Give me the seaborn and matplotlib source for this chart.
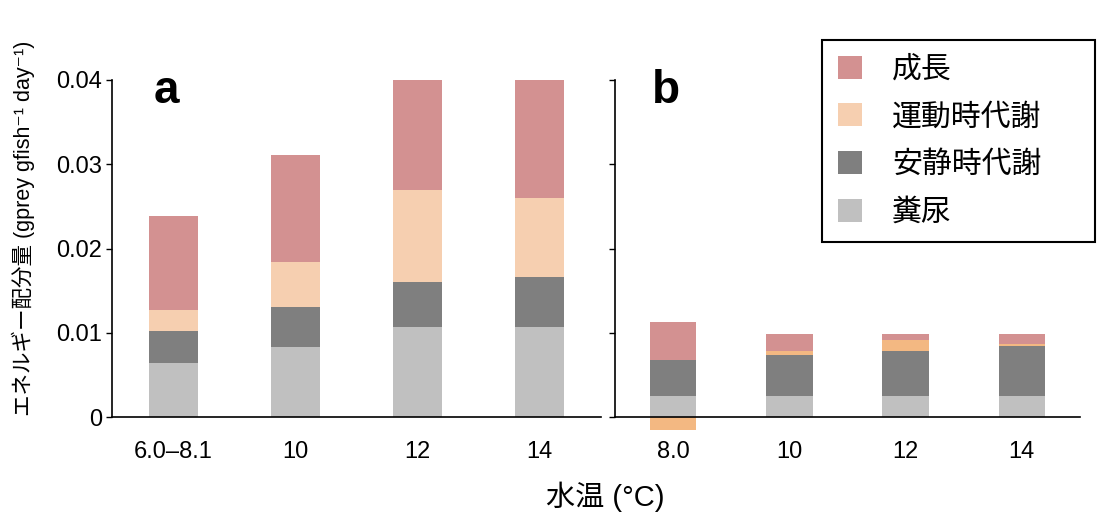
import numpy as np
import pandas as pd
import matplotlib
matplotlib.use('Agg')
import matplotlib.pyplot as plt
import seaborn as sns
from matplotlib.patches import Patch

# panel a (field estimates)
temps_a = ['6.0–8.1', '10', '12', '14']
feces_a = [0.0064, 0.0083, 0.0107, 0.0107]
rest_a = [0.0038, 0.0048, 0.0053, 0.0059]
act_a = [0.0025, 0.0053, 0.0109, 0.0094]
growth_a = [0.0112, 0.0127, 0.0131, 0.0140]

# panel b
temps_b = ['8.0', '10', '12', '14']
feces_b = [0.0025, 0.0025, 0.0025, 0.0025]
rest_b = [0.0043, 0.0048, 0.0053, 0.0059]
act_b = [-0.0015, 0.0005, 0.0013, 0.0003]
growth_b = [0.0045, 0.0020, 0.0007, 0.0011]

legend_labels = ['成長', '運動時代謝', '安静時代謝', '糞尿']
yticks = [0, 0.01, 0.02, 0.03, 0.04]
ytick_labels = ['0', '0.01', '0.02', '0.03', '0.04']

c_growth = '#d39191'
c_act_a = '#f6cfb0'
c_act_b = '#f3b882'
c_rest = '#7f7f7f'
c_feces = '#c0c0c0'

sns.set_style('ticks')
plt.rcParams['font.family'] = ['Liberation Sans', 'Noto Sans CJK JP', 'DejaVu Sans']
plt.rcParams['text.color'] = 'black'
plt.rcParams['axes.labelcolor'] = 'black'
plt.rcParams['xtick.color'] = 'black'
plt.rcParams['ytick.color'] = 'black'


def stacked(ax, temps, feces, rest, act, growth, act_color):
    """Stack the four energy components for one panel."""
    df = pd.DataFrame({'temp': temps, 'feces': feces, 'rest': rest,
                       'act': act, 'growth': growth})
    pos = np.zeros(len(df))
    neg = np.zeros(len(df))
    for col, color in [('feces', c_feces), ('rest', c_rest),
                       ('act', act_color), ('growth', c_growth)]:
        vals = df[col].to_numpy()
        bottom = np.where(vals >= 0, pos, neg)
        sns.barplot(data=df, x='temp', y=col, bottom=bottom, color=color,
                    width=0.4, saturation=1, errorbar=None, linewidth=0,
                    clip_on=False, ax=ax)
        pos = pos + np.clip(vals, 0, None)
        neg = neg + np.clip(vals, None, 0)

    ax.set_xlim(-0.5, 3.5)
    ax.set_ylim(0, 0.04)
    ax.set_yticks(yticks)
    ax.set_xlabel('')
    ax.set_ylabel('')
    for s in ['top', 'right']:
        ax.spines[s].set_visible(False)
    for s in ['left', 'bottom']:
        ax.spines[s].set_linewidth(1.2)
        ax.spines[s].set_color('black')
    ax.tick_params(axis='y', length=4, width=1, labelsize=17, pad=3)
    ax.tick_params(axis='x', length=0, labelsize=17, pad=17)


fig = plt.figure(figsize=(10.98, 5.15), dpi=100)
H = 515
W = 1098
ax_a = fig.add_axes([112 / W, (H - 417) / H, (601 - 112) / W, (417 - 80) / H])
ax_b = fig.add_axes([615 / W, (H - 417) / H, (1080 - 615) / W, (417 - 80) / H])

stacked(ax_a, temps_a, feces_a, rest_a, act_a, growth_a, c_act_a)
stacked(ax_b, temps_b, feces_b, rest_b, act_b, growth_b, c_act_b)

ax_a.set_yticklabels(ytick_labels)
ax_b.tick_params(axis='y', labelleft=False)

ax_a.set_ylabel('エネルギー配分量 (gprey gfish⁻¹ day⁻¹)', fontsize=15.5)
ax_a.yaxis.set_label_coords(-0.157, 0.56)

ax_a.text(-0.16, 0.0373, 'a', fontsize=33, fontweight='bold', va='baseline')
ax_b.text(-0.18, 0.0373, 'b', fontsize=33, fontweight='bold', va='baseline')

fig.text(0.551, 0.035, '水温 (°C)', fontsize=21, ha='center', va='center')

handles = [Patch(facecolor=c, edgecolor='none')
           for c in [c_growth, c_act_a, c_rest, c_feces]]
leg = fig.legend(handles, legend_labels, loc='upper left',
                 bbox_to_anchor=(822 / W, 1 - 241 / H, 273 / W, 201 / H),
                 mode='expand', fontsize=21.5, frameon=True, fancybox=False,
                 handlelength=0.82, handleheight=0.82, handletextpad=1.0,
                 labelspacing=0.66, borderpad=0.52, borderaxespad=0)
leg.get_frame().set_edgecolor('black')
leg.get_frame().set_linewidth(1.5)
leg.get_frame().set_alpha(1)

plt.savefig('out.png', dpi=100)
